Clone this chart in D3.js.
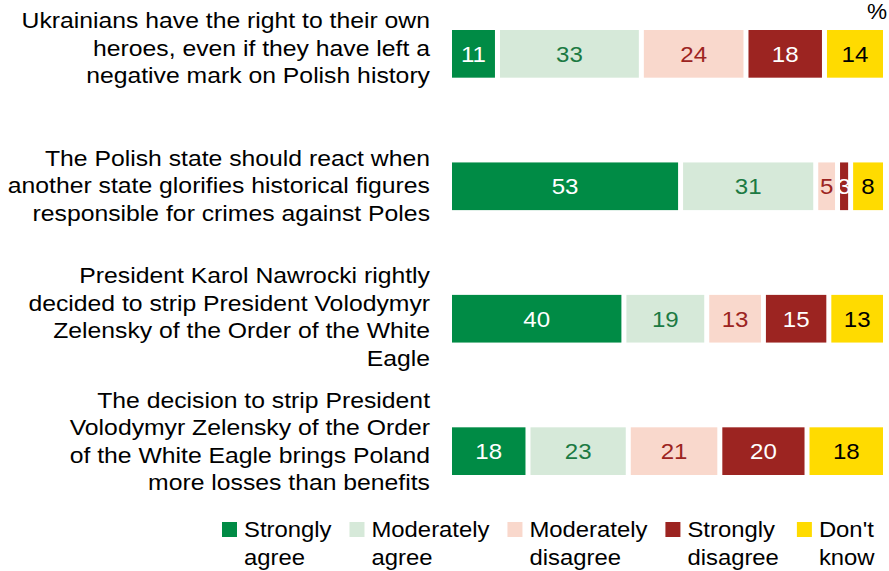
<!DOCTYPE html>
<html>
<head>
<meta charset="utf-8">
<script src="https://cdn.jsdelivr.net/npm/d3@7"></script>
<style>
  body { margin: 0; background: #fff; }
  text { font-family: "Liberation Sans", Arial, sans-serif; }
</style>
</head>
<body>
<svg id="chart" width="889" height="571"></svg>
<script>
// statements, already broken into lines as in the picture
var statements = [
  ["Ukrainians have the right to their own", "heroes, even if they have left a", "negative mark on Polish history"],
  ["The Polish state should react when", "another state glorifies historical figures", "responsible for crimes against Poles"],
  ["President Karol Nawrocki rightly", "decided to strip President Volodymyr", "Zelensky of the Order of the White", "Eagle"],
  ["The decision to strip President", "Volodymyr Zelensky of the Order", "of the White Eagle brings Poland", "more losses than benefits"]
]
var answers = ["Strongly agree", "Moderately agree", "Moderately disagree", "Strongly disagree", "Don't know"]
var legendLines = [["Strongly", "agree"], ["Moderately", "agree"], ["Moderately", "disagree"], ["Strongly", "disagree"], ["Don't", "know"]]

var stronglyAgree      = [11, 53, 40, 18]
var moderatelyAgree    = [33, 31, 19, 23]
var moderatelyDisagree = [24,  5, 13, 21]
var stronglyDisagree   = [18,  3, 15, 20]
var dontKnow           = [14,  8, 13, 18]

var fills      = ["#008b45", "#d6e9d9", "#f9d8cc", "#9c2421", "#ffdb00"]
var labelCols  = ["#ffffff", "#1c7a43", "#9c2421", "#ffffff", "#000000"]

// the original picture is a bit wider than tall, so text gets stretched the same way
var fontSize = 22.3
var lineH = 27.5
// the category labels in the original don't sit exactly centred on their bars
var labelNudge = [-6, -1, -2, -10]

var rows = statements.map(function(s, i) {
  return {
    id: i,
    "Strongly agree": stronglyAgree[i],
    "Moderately agree": moderatelyAgree[i],
    "Moderately disagree": moderatelyDisagree[i],
    "Strongly disagree": stronglyDisagree[i],
    "Don't know": dontKnow[i]
  }
})

var series = d3.stack().keys(answers)(rows)

var svg = d3.select("#chart")

var x = d3.scaleLinear().domain([0, 100]).range([449.5, 885.5])
var y = d3.scaleBand()
    .domain(rows.map(function(d) { return d.id }))
    .range([30, 475])
    .paddingInner(0.64)
    .paddingOuter(0)

function place(x0, y0, s) {
  return "translate(" + x0 + "," + y0 + ") scale(" + s + ",1)"
}

// bars
var groups = svg.append("g").selectAll("g")
    .data(series)
    .join("g")
      .attr("fill", function(d, i) { return fills[i] })

groups.selectAll("rect")
    .data(function(d) { return d })
    .join("rect")
      .attr("x", function(d) { return x(d[0]) + 2.5 })
      .attr("width", function(d) { return Math.max(0, x(d[1]) - x(d[0]) - 5) })
      .attr("y", function(d) { return y(d.data.id) })
      .attr("height", y.bandwidth())

// value labels
series.forEach(function(s, k) {
  svg.append("g").selectAll("text")
    .data(s)
    .join("text")
      .attr("transform", function(d) {
        return place((x(d[0]) + x(d[1])) / 2, y(d.data.id) + y.bandwidth() / 2 + fontSize * 0.36, 1.08)
      })
      .attr("text-anchor", "middle")
      .attr("font-size", fontSize)
      .attr("fill", labelCols[k])
      .text(function(d) { return d[1] - d[0] })
})

// category labels on the left
statements.forEach(function(lines, i) {
  var c = y(i) + y.bandwidth() / 2
  var first = c - (lines.length - 1) * lineH / 2 + fontSize * 0.36 + labelNudge[i]
  svg.append("g").selectAll("text")
    .data(lines)
    .join("text")
      .attr("transform", function(d, j) { return place(430, first + j * lineH, 1.11) })
      .attr("text-anchor", "end")
      .attr("font-size", fontSize)
      .attr("fill", "#000")
      .text(function(d) { return d })
})

// percent sign
svg.append("text")
    .attr("transform", place(887, 19, 1.05))
    .attr("text-anchor", "end")
    .attr("font-size", 21.5)
    .text("%")

// legend
var lx = 222
legendLines.forEach(function(lines, i) {
  var g = svg.append("g")
  g.append("rect")
      .attr("x", lx).attr("y", 522)
      .attr("width", 15).attr("height", 15)
      .attr("fill", fills[i])
  var w = 0
  lines.forEach(function(t, j) {
    var tx = g.append("text")
        .attr("transform", place(lx + 22, 537 + j * lineH, 1.07))
        .attr("font-size", fontSize)
        .text(t)
    w = Math.max(w, tx.node().getComputedTextLength() * 1.07)
  })
  lx = lx + 22 + w + 18
})
</script>
</body>
</html>
